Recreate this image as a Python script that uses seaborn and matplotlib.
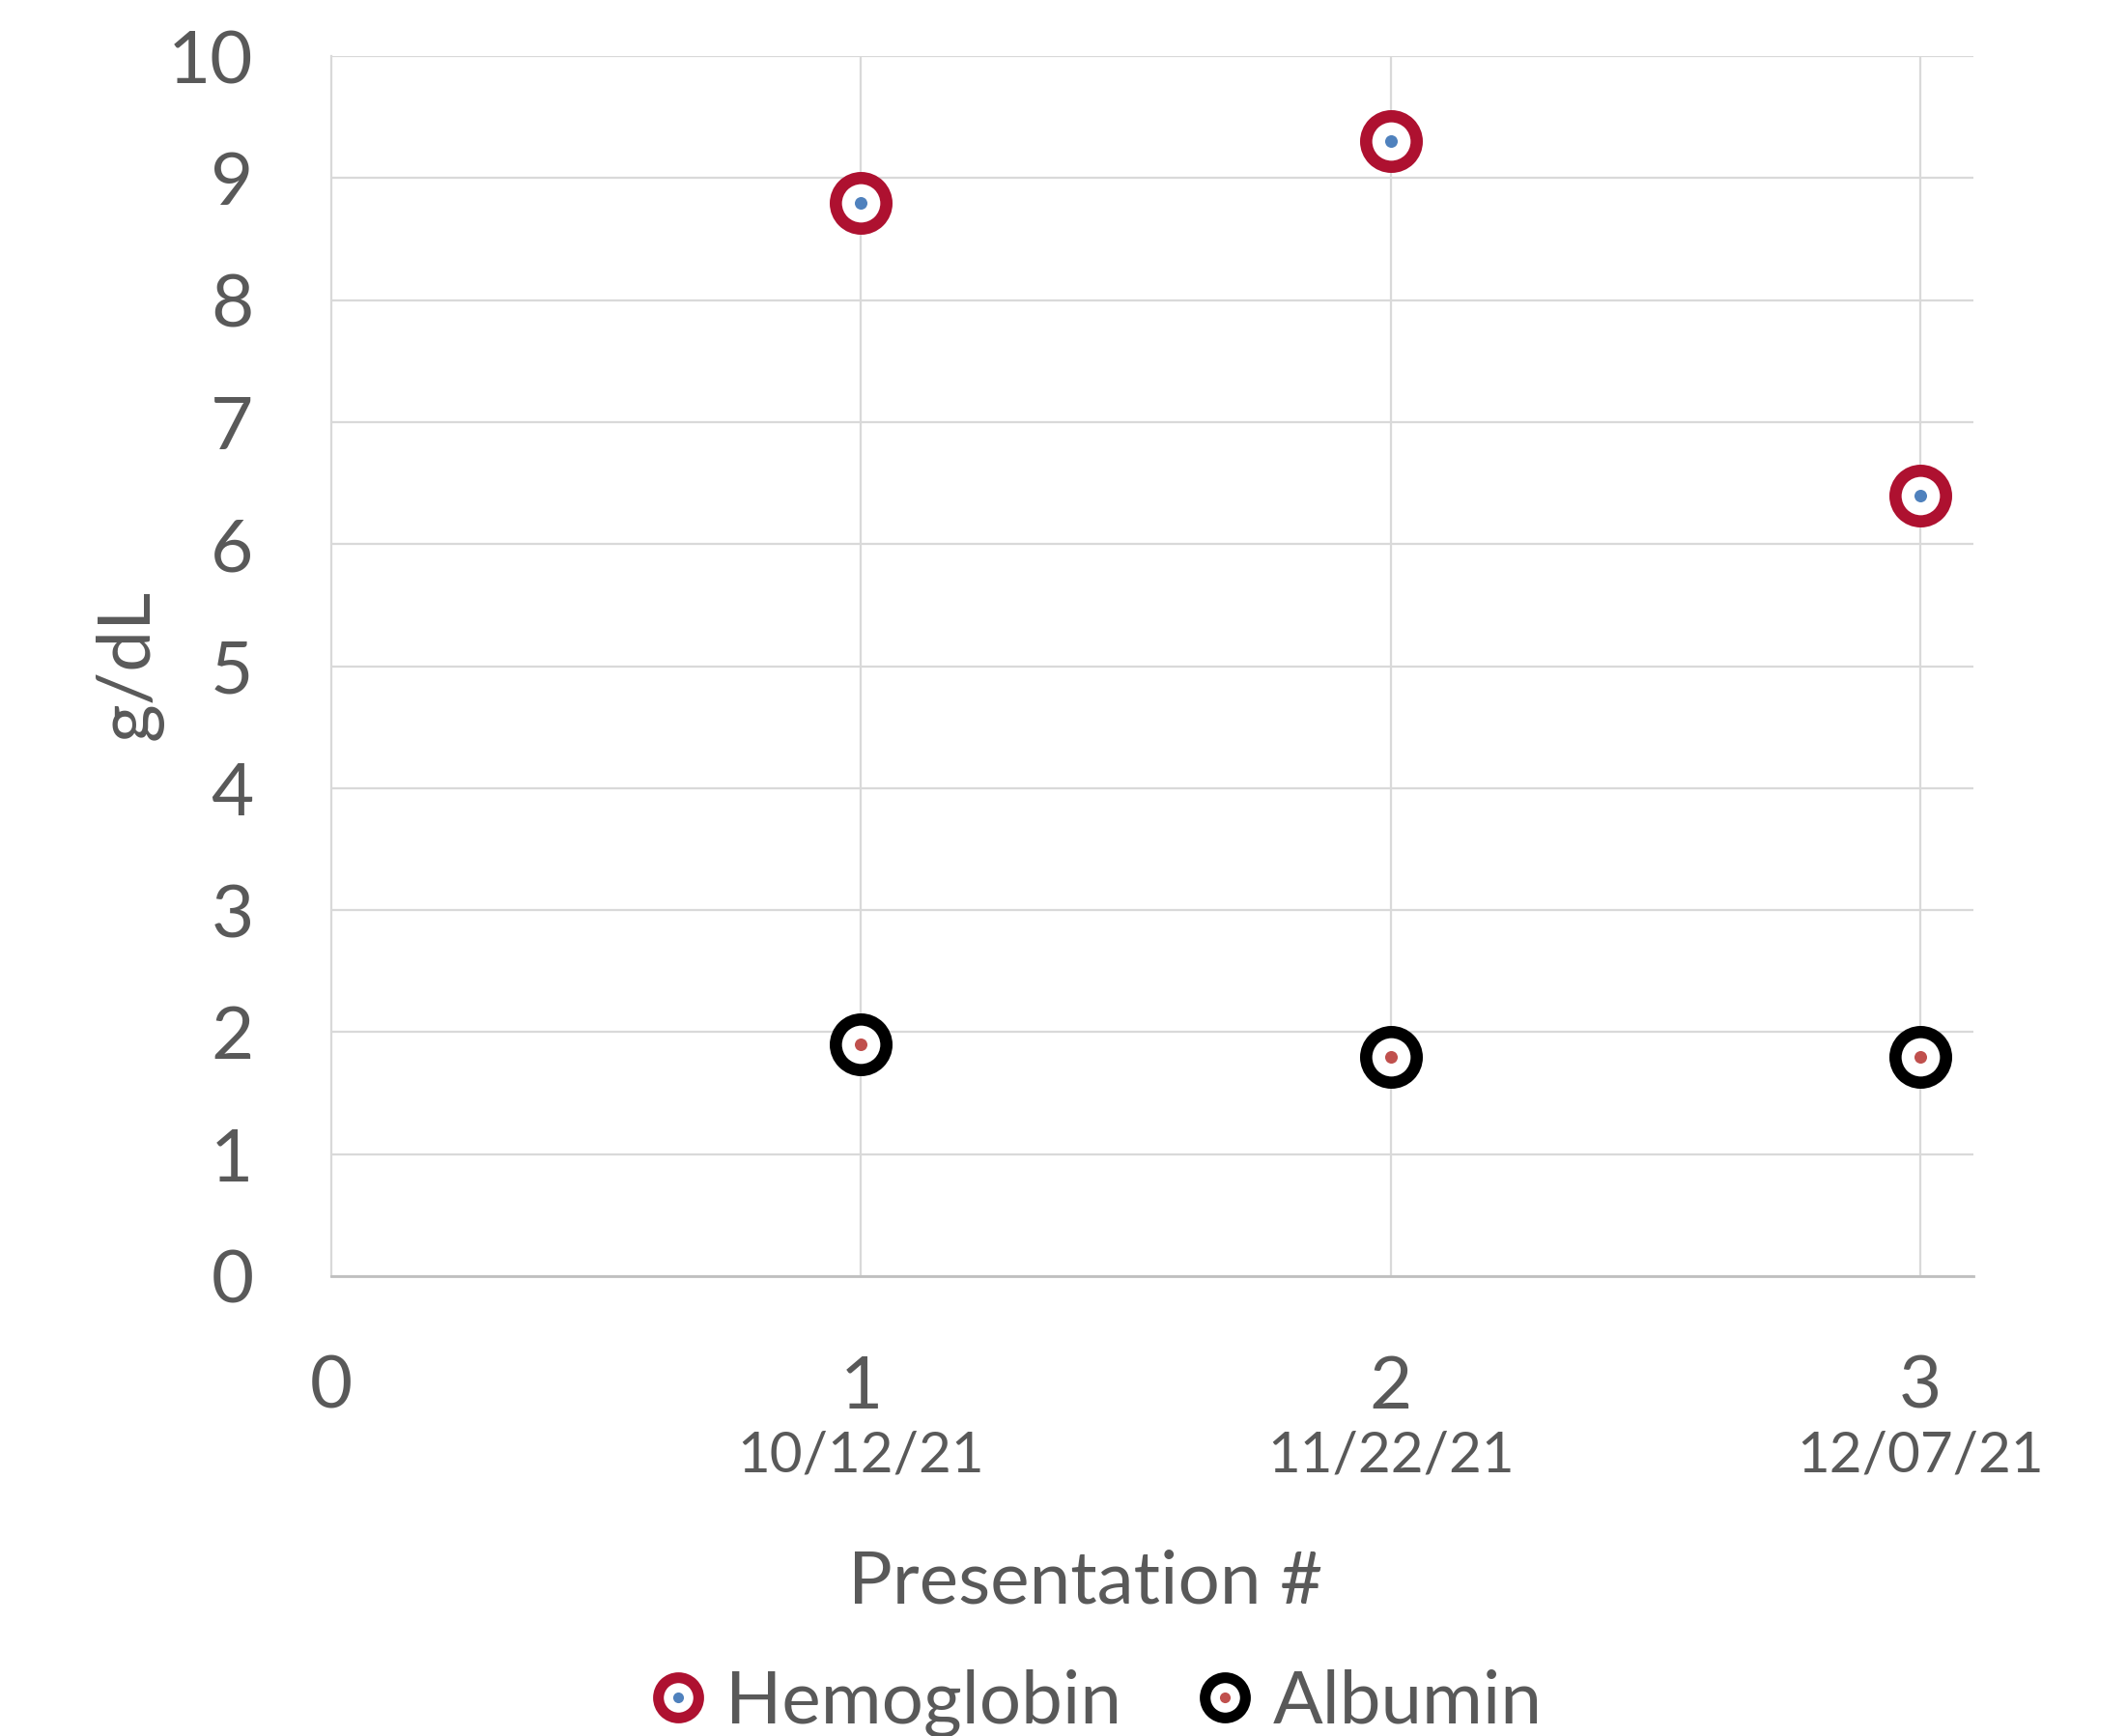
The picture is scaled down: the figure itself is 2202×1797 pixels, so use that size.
import matplotlib
matplotlib.use("Agg")
import matplotlib.pyplot as plt
import seaborn as sns
import pandas as pd
from matplotlib.lines import Line2D
from matplotlib.legend_handler import HandlerTuple

# data
presentation = [1, 2, 3]
dates = ["10/12/21", "11/22/21", "12/07/21"]
hemoglobin = [8.8, 9.3, 6.4]
albumin = [1.9, 1.8, 1.8]
x_ticks = [0, 1, 2, 3]
y_ticks = list(range(0, 11))

TEXT = "#595959"
GRID = "#D9D9D9"
RED = "#AE1130"
BLUE = "#4F81BD"
DOT_RED = "#C0504D"

sns.set_theme(style="white")
plt.rcParams["font.family"] = ["Lato", "DejaVu Sans"]
plt.rcParams["text.color"] = TEXT

df = pd.DataFrame({
    "presentation": presentation * 2,
    "value": hemoglobin + albumin,
    "series": ["Hemoglobin"] * 3 + ["Albumin"] * 3,
})

fig = plt.figure(figsize=(22.02, 17.97), dpi=100)
ax = fig.add_axes([0.1558, 0.2649, 0.772, 0.7028])

ring = {"Hemoglobin": RED, "Albumin": "black"}
dot = {"Hemoglobin": BLUE, "Albumin": DOT_RED}

# outer rings (white fill, thick coloured edge) then the small centre dot
for name, sub in df.groupby("series"):
    sns.scatterplot(data=sub, x="presentation", y="value", ax=ax, s=1420,
                    color="white", edgecolor=ring[name], linewidth=9.1,
                    zorder=3, legend=False)
    sns.scatterplot(data=sub, x="presentation", y="value", ax=ax, s=88,
                    color=dot[name], linewidth=0, zorder=4, legend=False)

ax.set_xlim(0, 3.1)
ax.set_ylim(0, 10)
ax.set_xticks(x_ticks)
ax.set_yticks(y_ticks)
ax.set_xticklabels([str(t) for t in x_ticks])
ax.set_yticklabels([str(t) for t in y_ticks])
ax.tick_params(axis="both", length=0, labelsize=55, colors=TEXT)
ax.tick_params(axis="x", pad=58)
ax.tick_params(axis="y", pad=58)

ax.grid(True, axis="y", color=GRID, linewidth=1.6)
for xv in presentation:
    ax.axvline(xv, color=GRID, linewidth=1.6, zorder=1)
ax.set_axisbelow(True)

for side in ["top", "right"]:
    ax.spines[side].set_visible(False)
ax.spines["left"].set_color(GRID)
ax.spines["left"].set_linewidth(1.6)
ax.spines["bottom"].set_color("#BFBFBF")
ax.spines["bottom"].set_linewidth(2)

for xv, d in zip(presentation, dates):
    ax.text(xv, -0.147, d, transform=ax.get_xaxis_transform(), ha="center",
            va="center", fontsize=42, color=TEXT)

ax.set_xlabel("Presentation #", fontsize=55, color=TEXT)
ax.xaxis.label.set_va("center")
ax.xaxis.set_label_coords(0.459, -0.251)
ax.set_ylabel("g/dL", fontsize=55, color=TEXT)
ax.yaxis.label.set_va("center")
ax.yaxis.set_label_coords(-0.1235, 0.501)

handles = [
    (Line2D([], [], ls="", marker="o", ms=30, mfc="white", mec=RED, mew=8),
     Line2D([], [], ls="", marker="o", ms=8, mfc=BLUE, mec=BLUE, mew=0)),
    (Line2D([], [], ls="", marker="o", ms=30, mfc="white", mec="black", mew=8),
     Line2D([], [], ls="", marker="o", ms=8, mfc=DOT_RED, mec=DOT_RED, mew=0)),
]
fig.legend(handles, ["Hemoglobin", "Albumin"], loc="center",
           bbox_to_anchor=(0.515, 0.0187), ncol=2, frameon=False,
           fontsize=55, handler_map={tuple: HandlerTuple(ndivide=1)},
           handlelength=0.8, handletextpad=0.25, columnspacing=1.0,
           labelcolor=TEXT)

fig.savefig("out.png", dpi=100)
